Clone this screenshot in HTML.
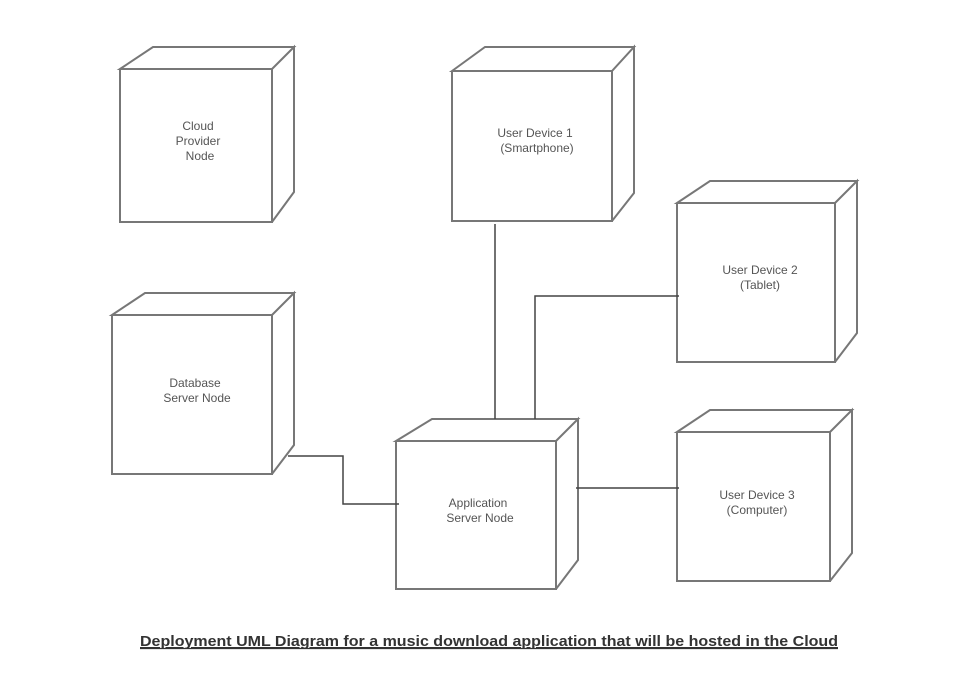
<!DOCTYPE html>
<html><head><meta charset="utf-8"><style>
html,body{margin:0;padding:0;background:#fff;}
svg{display:block;}
text{font-family:"Liberation Sans",sans-serif;fill:#555;font-size:12px;}
</style></head><body>
<svg width="956" height="697" viewBox="0 0 956 697" xmlns="http://www.w3.org/2000/svg">
<g fill="none" stroke="#777" stroke-width="2">
<!-- Cloud -->
<path d="M120,69 L153,47 L294,47 L272,69 Z M272,69 L294,47 L294,192 L272,222 M120,69 L120,222 L272,222 L272,69"/>
<!-- Smartphone -->
<path d="M452,71 L485,47 L634,47 L612,71 Z M612,71 L634,47 L634,193 L612,221 M452,71 L452,221 L612,221 L612,71"/>
<!-- Tablet -->
<path d="M677,203 L710,181 L857,181 L835,203 Z M835,203 L857,181 L857,333 L835,362 M677,203 L677,362 L835,362 L835,203"/>
<!-- Database -->
<path d="M112,315 L145,293 L294,293 L272,315 Z M272,315 L294,293 L294,445 L272,474 M112,315 L112,474 L272,474 L272,315"/>
<!-- App -->
<path d="M396,441 L432,419 L578,419 L556,441 Z M556,441 L578,419 L578,560 L556,589 M396,441 L396,589 L556,589 L556,441"/>
<!-- Computer -->
<path d="M677,432 L710,410 L852,410 L830,432 Z M830,432 L852,410 L852,553 L830,581 M677,432 L677,581 L830,581 L830,432"/>
</g>
<g fill="none" stroke="#444" stroke-width="1.5">
<path d="M288,456 L343,456 L343,504 L399,504"/>
<path d="M495,224 L495,419"/>
<path d="M535,419 L535,296 L679,296"/>
<path d="M576,488 L679,488"/>
</g>
<g text-anchor="middle">
<text x="198" y="130">Cloud</text>
<text x="198" y="145">Provider</text>
<text x="200" y="160">Node</text>
<text x="535" y="137">User Device 1</text>
<text x="537" y="152">(Smartphone)</text>
<text x="760" y="274">User Device 2</text>
<text x="760" y="289">(Tablet)</text>
<text x="195" y="387">Database</text>
<text x="197" y="402">Server Node</text>
<text x="478" y="507">Application</text>
<text x="480" y="522">Server Node</text>
<text x="757" y="499">User Device 3</text>
<text x="757" y="514">(Computer)</text>
</g>
<text x="140" y="646" textLength="698" lengthAdjust="spacingAndGlyphs" style="font-size:15px;fill:#333;font-weight:bold;text-decoration:underline;">Deployment UML Diagram for a music download application that will be hosted in the Cloud</text>
<line x1="140" y1="648.5" x2="838" y2="648.5" stroke="#333" stroke-width="1.2"/>
</svg>
</body></html>
